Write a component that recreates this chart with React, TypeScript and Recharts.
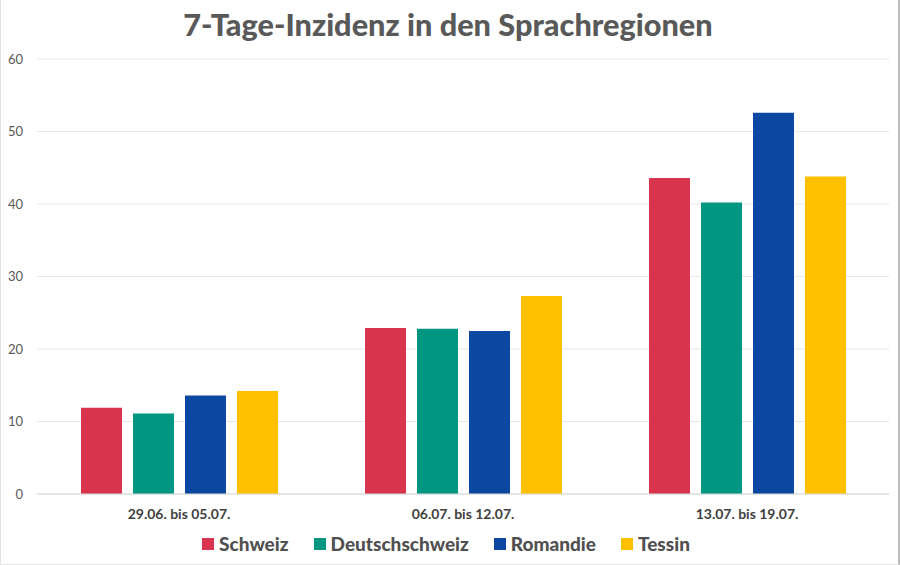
import { BarChart, Bar, XAxis, YAxis, CartesianGrid, Legend } from 'recharts';

const weeks = ['29.06. bis 05.07.', '06.07. bis 12.07.', '13.07. bis 19.07.'];
const schweiz = [11.9, 22.9, 43.6];
const deutschschweiz = [11.1, 22.8, 40.2];
const romandie = [13.6, 22.5, 52.6];
const tessin = [14.2, 27.3, 43.8];
const yTicks = [0, 10, 20, 30, 40, 50, 60];

const series = [
  { key: 'schweiz', name: 'Schweiz', color: '#d9344e' },
  { key: 'deutschschweiz', name: 'Deutschschweiz', color: '#009682' },
  { key: 'romandie', name: 'Romandie', color: '#0c47a1' },
  { key: 'tessin', name: 'Tessin', color: '#ffc000' },
];

const data = weeks.map((name, i) => ({
  name,
  schweiz: schweiz[i],
  deutschschweiz: deutschschweiz[i],
  romandie: romandie[i],
  tessin: tessin[i],
}));

const font = 'Lato, "Open Sans", sans-serif';

const LegendContent = () => (
  <div
    style={{
      display: 'flex',
      justifyContent: 'center',
      alignItems: 'center',
      gap: 25,
      paddingTop: 8,
      paddingLeft: 2,
      fontFamily: font,
      fontWeight: 900,
      fontSize: 19,
      color: '#505050',
    }}>
    {series.map((s) => (
      <span key={s.key} style={{ display: 'flex', alignItems: 'center', gap: 5 }}>
        <span style={{ width: 12, height: 12, background: s.color, display: 'inline-block' }} />
        {s.name}
      </span>
    ))}
  </div>
);

export default function App() {
  return (
    <div
      style={{
        position: 'absolute',
        left: 0,
        top: 0,
        width: 900,
        height: 565,
        background: '#fff',
        boxSizing: 'border-box',
        borderLeft: '1px solid #e4e4e4',
        borderBottom: '1px solid #e4e4e4',
        borderRight: '2px solid #bbb',
      }}>
      <div
        style={{
          position: 'absolute',
          top: 6,
          left: -3,
          width: 900,
          textAlign: 'center',
          fontFamily: font,
          fontWeight: 900,
          fontSize: 30.7,
          color: '#595959',
        }}>
        7-Tage-Inzidenz in den Sprachregionen
      </div>
      <BarChart
        width={897}
        height={563}
        data={data}
        barSize={41}
        barGap={11}
        margin={{ top: 59, right: 9, left: 0, bottom: 3 }}>
        <CartesianGrid vertical={false} stroke="#e6e6e6" />
        <XAxis
          dataKey="name"
          height={30}
          axisLine={{ stroke: '#d9d9d9' }}
          tickLine={false}
          tickMargin={9}
          tick={{ fill: '#404040', fontSize: 14, fontWeight: 700, fontFamily: font }}
        />
        <YAxis
          width={36}
          domain={[0, 60]}
          ticks={yTicks}
          axisLine={false}
          tickLine={false}
          tickMargin={8}
          tick={{ fill: '#595959', fontSize: 13, fontFamily: font }}
        />
        <Legend verticalAlign="bottom" height={36} content={<LegendContent />} />
        {series.map((s) => (
          <Bar key={s.key} dataKey={s.key} name={s.name} fill={s.color} isAnimationActive={false} />
        ))}
      </BarChart>
    </div>
  );
}
